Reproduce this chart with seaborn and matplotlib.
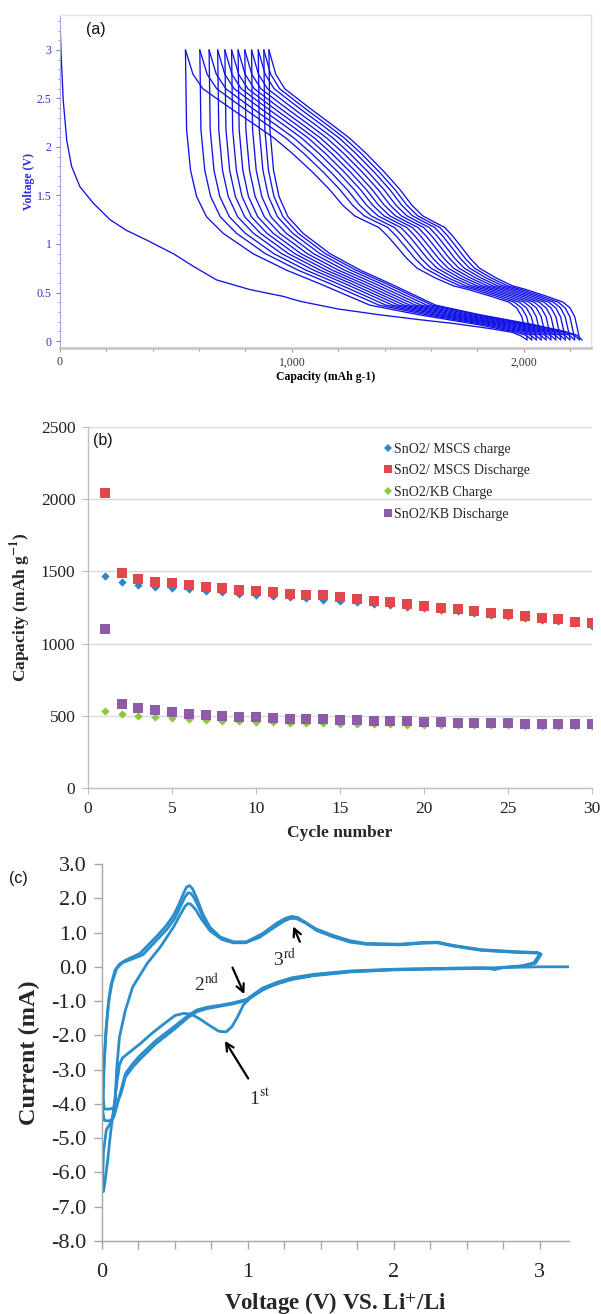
import numpy as np
import pandas as pd
import matplotlib
matplotlib.use("Agg")
import matplotlib.pyplot as plt
from matplotlib.ticker import MultipleLocator, FuncFormatter, FormatStrFormatter
from matplotlib.lines import Line2D
import seaborn as sns

# ---------------- Panel (a): galvanostatic curves ----------------
first_dis_cap = [0, 4, 14, 29, 50, 86, 144, 216, 287, 374, 431, 489, 575, 675, 819, 963,
                 1034, 1200, 1379, 1550, 1700, 1850, 1950, 1990, 2015]
first_dis_v = [3.31, 3.00, 2.48, 2.07, 1.80, 1.59, 1.42, 1.25, 1.14, 1.04, 0.97, 0.90, 0.77,
               0.63, 0.53, 0.46, 0.41, 0.33, 0.27, 0.22, 0.18, 0.13, 0.09, 0.05, 0.01]
top_caps = [541, 603, 643, 680, 711, 740, 768, 797, 826, 855, 879, 901]
bottom_caps = [2015, 2035, 2055, 2076, 2097, 2118, 2139, 2160, 2180, 2200, 2220, 2241]
last_bottom_cap = 2252
charge_frac = [0, 0.0067, 0.0157, 0.0306, 0.053, 0.105, 0.172, 0.217, 0.269, 0.322, 0.352,
               0.381, 0.408, 0.434, 0.470, 0.505, 0.540, 0.578, 0.628, 0.686, 0.740, 0.793,
               0.852, 0.901, 0.949, 0.978, 1.0]
charge_v = [0.02, 0.12, 0.25, 0.34, 0.40, 0.46, 0.53, 0.57, 0.65, 0.75, 0.85, 0.97, 1.08,
            1.17, 1.23, 1.29, 1.40, 1.56, 1.74, 1.93, 2.09, 2.22, 2.36, 2.48, 2.60, 2.75, 3.00]
dis_frac = [0, 0.0033, 0.0147, 0.0321, 0.0609, 0.109, 0.195, 0.292, 0.388, 0.532, 0.675,
            0.843, 0.943, 0.983, 1.0]
dis_v = [3.0, 2.18, 1.76, 1.49, 1.28, 1.11, 0.90, 0.73, 0.59, 0.37, 0.27, 0.17, 0.10, 0.06, 0.01]

# ---------------- Panel (b): cycling ----------------
cycles = list(range(1, 31))
mscs_charge = [1470, 1430, 1405, 1395, 1385, 1375, 1365, 1355, 1345, 1340, 1330, 1320, 1315,
               1305, 1295, 1285, 1275, 1265, 1255, 1245, 1235, 1225, 1215, 1200, 1190, 1175,
               1165, 1155, 1140, 1125]
mscs_discharge = [2040, 1490, 1450, 1430, 1420, 1405, 1395, 1385, 1370, 1365, 1355, 1345, 1340,
                  1335, 1320, 1310, 1297, 1287, 1275, 1262, 1250, 1238, 1227, 1215, 1202, 1190,
                  1177, 1167, 1153, 1143]
kb_charge = [535, 515, 500, 490, 482, 475, 470, 466, 462, 458, 455, 452, 450, 448, 446, 444,
             442, 440, 439, 438, 437, 436, 435, 434, 433, 432, 431, 431, 430, 430]
kb_discharge = [1100, 585, 555, 540, 525, 515, 505, 500, 495, 490, 485, 480, 477, 475, 472,
                470, 466, 464, 462, 458, 455, 452, 450, 448, 447, 446, 445, 445, 443, 442]
series_names = ["SnO2/ MSCS charge", "SnO2/ MSCS Discharge", "SnO2/KB Charge", "SnO2/KB Discharge"]

# ---------------- Panel (c): cyclic voltammetry ----------------
cv1_v = [3.20, 3.00, 2.75, 2.69, 2.62, 2.30, 2.00, 1.70, 1.45, 1.30, 1.20, 1.10, 1.02, 0.97,
         0.93, 0.89, 0.85, 0.80, 0.74, 0.67, 0.61, 0.56, 0.50, 0.42, 0.34, 0.26, 0.18, 0.14,
         0.12, 0.10, 0.08, 0.06, 0.04, 0.02, 0.01,
         0.005, 0.01, 0.03, 0.06, 0.08, 0.09, 0.10, 0.12, 0.16, 0.21, 0.31, 0.40, 0.49, 0.54,
         0.57, 0.59, 0.61, 0.64, 0.68, 0.74, 0.82, 0.90, 0.98, 1.08, 1.18, 1.25, 1.29, 1.33,
         1.38, 1.47, 1.58, 1.70, 1.81, 2.04, 2.20, 2.30, 2.40, 2.60, 2.84, 2.98, 3.00, 2.96,
         2.88]
cv1_i = [0.00, 0.00, -0.02, -0.08, -0.03, -0.05, -0.08, -0.14, -0.24, -0.36, -0.48, -0.68,
         -0.90, -1.10, -1.45, -1.75, -1.90, -1.88, -1.72, -1.52, -1.38, -1.36, -1.42, -1.68,
         -1.95, -2.25, -2.52, -2.66, -2.85, -3.45, -4.15, -4.80, -5.60, -6.30, -6.56,
         -6.20, -5.40, -4.75, -4.55, -4.30, -3.99, -3.00, -2.04, -1.27, -0.59, 0.10, 0.58,
         1.16, 1.55, 1.77, 1.85, 1.82, 1.68, 1.40, 1.05, 0.80, 0.70, 0.70, 0.86, 1.15, 1.34,
         1.41, 1.41, 1.31, 1.10, 0.92, 0.76, 0.68, 0.66, 0.71, 0.72, 0.63, 0.50, 0.44, 0.42,
         0.38, 0.12, 0.03]
cv2_v = [2.88, 2.70, 2.40, 2.00, 1.70, 1.45, 1.30, 1.20, 1.10, 0.99, 0.90, 0.81, 0.72, 0.65,
         0.59, 0.49, 0.37, 0.26, 0.21, 0.16, 0.13, 0.10, 0.08, 0.05, 0.015,
         0.005, 0.01, 0.025, 0.043, 0.06, 0.089, 0.12, 0.16, 0.26, 0.37, 0.44, 0.49, 0.53,
         0.56, 0.58, 0.60, 0.62, 0.65, 0.69, 0.74, 0.81, 0.90, 0.99, 1.10, 1.20, 1.26, 1.30,
         1.34, 1.40, 1.47, 1.58, 1.70, 1.81, 2.04, 2.20, 2.30, 2.40, 2.60, 2.84, 2.98, 3.01,
         2.97, 2.88]
cv2_i = [0.03, -0.03, -0.04, -0.07, -0.12, -0.22, -0.32, -0.45, -0.62, -0.95, -1.05, -1.12,
         -1.18, -1.26, -1.42, -1.76, -2.15, -2.59, -2.83, -3.12, -3.61, -4.09, -4.40, -4.50,
         -4.48,
         -4.20, -3.20, -2.00, -1.07, -0.55, -0.10, 0.08, 0.19, 0.39, 0.87, 1.20, 1.50, 1.85,
         2.16, 2.33, 2.37, 2.28, 2.00, 1.55, 1.15, 0.87, 0.73, 0.73, 0.97, 1.28, 1.42, 1.47,
         1.44, 1.28, 1.08, 0.90, 0.74, 0.67, 0.65, 0.70, 0.71, 0.62, 0.49, 0.43, 0.41, 0.37,
         0.10, 0.02]
cv3_v = [2.88, 2.70, 2.40, 2.00, 1.70, 1.45, 1.30, 1.20, 1.10, 0.99, 0.90, 0.81, 0.72, 0.65,
         0.59, 0.49, 0.37, 0.26, 0.21, 0.16, 0.13, 0.10, 0.08, 0.05, 0.015,
         0.008, 0.015, 0.03, 0.05, 0.07, 0.10, 0.14, 0.19, 0.28, 0.38, 0.45, 0.50, 0.54, 0.57,
         0.59, 0.61, 0.63, 0.66, 0.70, 0.75, 0.81, 0.90, 0.99, 1.10, 1.20, 1.26, 1.30, 1.34,
         1.40, 1.47, 1.58, 1.70, 1.81, 2.04, 2.20, 2.30, 2.40, 2.60, 2.84, 2.99]
cv3_i = [0.02, -0.04, -0.06, -0.09, -0.15, -0.26, -0.37, -0.50, -0.66, -0.98, -1.08, -1.15,
         -1.22, -1.31, -1.48, -1.84, -2.24, -2.70, -2.93, -3.22, -3.70, -4.00, -4.12, -4.15,
         -4.15,
         -3.80, -2.80, -1.70, -0.90, -0.45, -0.05, 0.12, 0.20, 0.35, 0.80, 1.12, 1.42, 1.78,
         2.05, 2.16, 2.14, 2.02, 1.76, 1.38, 1.05, 0.85, 0.71, 0.71, 0.95, 1.26, 1.40, 1.45,
         1.42, 1.27, 1.06, 0.88, 0.72, 0.66, 0.64, 0.69, 0.70, 0.61, 0.48, 0.42, 0.40]

# ---------------- style ----------------
sns.set_theme(style="white")
plt.rcParams['font.family'] = ['Liberation Serif', 'DejaVu Serif']
plt.rcParams['mathtext.fontset'] = 'stix'
plt.rcParams['axes.unicode_minus'] = False

fig = plt.figure(figsize=(6.01, 13.14), dpi=100)
axA = fig.add_axes([0.09983, 0.73516, 0.8835, 0.25342])
axB = fig.add_axes([0.14642, 0.40030, 0.83860, 0.27473])
axC = fig.add_axes([0.16972, 0.05556, 0.77704, 0.28691])

# ---------------- Panel (a) ----------------
rows = []
rows.append(pd.DataFrame({"cap": first_dis_cap, "v": first_dis_v, "seg": "d0"}))
cf = np.array(charge_frac)
df_ = np.array(dis_frac)
for k in range(len(top_caps)):
    b, t = bottom_caps[k], top_caps[k]
    rows.append(pd.DataFrame({"cap": b - cf * (b - t), "v": charge_v, "seg": f"c{k}"}))
    end = bottom_caps[k + 1] if k + 1 < len(bottom_caps) else last_bottom_cap
    rows.append(pd.DataFrame({"cap": t + df_ * (end - t), "v": dis_v, "seg": f"d{k+1}"}))
dfA = pd.concat(rows, ignore_index=True)
sns.lineplot(data=dfA, x="cap", y="v", units="seg", estimator=None, sort=False,
             color="#1212E6", linewidth=0.95, ax=axA)
axA.set_xlim(0, 2290)
axA.set_ylim(-0.072, 3.36)
axA.xaxis.set_major_locator(MultipleLocator(1000))
axA.xaxis.set_minor_locator(MultipleLocator(200))
axA.yaxis.set_major_locator(MultipleLocator(0.5))
axA.yaxis.set_minor_locator(MultipleLocator(0.1))
axA.xaxis.set_major_formatter(FuncFormatter(lambda x, p: f"{int(x):,}"))
axA.yaxis.set_major_formatter(FuncFormatter(lambda y, p: f"{y:g}"))
axA.tick_params(axis='x', which='major', direction='out', length=3, width=0.8,
                color='#999999', labelsize=8.5, labelcolor='#333333', pad=3, bottom=True)
axA.tick_params(axis='x', which='minor', direction='out', length=2.5, width=0.8,
                color='#999999', bottom=True)
axA.tick_params(axis='y', which='major', direction='out', length=3, width=0.8,
                color='#8080d0', labelsize=8.5, labelcolor='#3030e0', pad=3, left=True)
axA.tick_params(axis='y', which='minor', direction='out', length=1.5, width=0.6,
                color='#8080d0', left=True)
for s in ['top', 'right']:
    axA.spines[s].set_color('#e4e4e4')
    axA.spines[s].set_linewidth(1.0)
axA.spines['bottom'].set_color('#c8c8c8')
axA.spines['bottom'].set_linewidth(2.0)
axA.spines['left'].set_color('#a8a8d8')
axA.spines['left'].set_linewidth(0.8)
axA.set_xlabel("Capacity (mAh g-1)", fontsize=8.5, fontweight='bold', color='black', labelpad=2)
axA.set_ylabel("Voltage (V)", fontsize=8.5, fontweight='bold', color='#2a2ae0', labelpad=1)

# ---------------- Panel (b) ----------------
colors_b = ["#2E86C8", "#E2474B", "#8DC63F", "#8E5BA8"]
markers_b = ["D", "s", "D", "s"]
sizes_b = [18, 44, 18, 44]
values_b = [mscs_charge, mscs_discharge, kb_charge, kb_discharge]
for name, vals, c, m, s in zip(series_names, values_b, colors_b, markers_b, sizes_b):
    d = pd.DataFrame({"cycle": cycles, "cap": vals})
    sns.scatterplot(data=d, x="cycle", y="cap", marker=m, s=s, color=c, linewidth=0,
                    ax=axB, legend=False, zorder=3)
axB.set_xlim(0, 30)
axB.set_ylim(0, 2500)
axB.xaxis.set_major_locator(MultipleLocator(5))
axB.yaxis.set_major_locator(MultipleLocator(500))
axB.yaxis.grid(True, color='#d9d9d9', linewidth=1.0)
axB.xaxis.grid(False)
axB.set_axisbelow(True)
for s in ['top', 'right']:
    axB.spines[s].set_visible(False)
for s in ['left', 'bottom']:
    axB.spines[s].set_color('#bfbfbf')
    axB.spines[s].set_linewidth(1.0)
axB.tick_params(axis='both', direction='out', length=4, width=0.8, color='#bfbfbf',
                labelsize=12.5, labelcolor='#222222', pad=5, bottom=True, left=True)
axB.set_xlabel("Cycle number", fontsize=12.5, fontweight='bold', labelpad=6)
axB.set_ylabel(r"Capacity (mAh g$^{\mathbf{-1}}$)", fontsize=12.5, fontweight='bold', labelpad=6)
handles = [Line2D([], [], linestyle='none', marker=m, color=c, markeredgewidth=0,
                  markersize=(4.0 if m == 'D' else 6.0)) for c, m in zip(colors_b, markers_b)]
axB.legend(handles, series_names, loc='upper left', bbox_to_anchor=(0.575, 0.972),
           frameon=False, fontsize=10, handlelength=0.6, handletextpad=0.15,
           labelspacing=0.62, borderaxespad=0)

# ---------------- Panel (c) ----------------
cv_df = pd.concat([
    pd.DataFrame({"V": cv1_v, "I": cv1_i, "cycle": "1"}),
    pd.DataFrame({"V": cv2_v, "I": cv2_i, "cycle": "2"}),
    pd.DataFrame({"V": cv3_v, "I": cv3_i, "cycle": "3"}),
], ignore_index=True)
sns.lineplot(data=cv_df, x="V", y="I", units="cycle", estimator=None, sort=False,
             color="#2C8DCB", linewidth=2.0, ax=axC)
axC.set_xlim(0, 3.2)
axC.set_ylim(-8, 3)
axC.xaxis.set_major_locator(MultipleLocator(1))
axC.xaxis.set_minor_locator(MultipleLocator(0.25))
axC.yaxis.set_major_locator(MultipleLocator(1.0))
axC.yaxis.set_major_formatter(FormatStrFormatter("%.1f"))
axC.xaxis.set_major_formatter(FuncFormatter(lambda x, p: f"{int(round(x))}"))
for s in ['top', 'right']:
    axC.spines[s].set_visible(False)
for s in ['left', 'bottom']:
    axC.spines[s].set_color('#a6a6a6')
    axC.spines[s].set_linewidth(1.0)
axC.tick_params(axis='both', which='major', direction='out', length=6, width=1.0,
                color='#a6a6a6', labelsize=16, labelcolor='#222222', pad=10,
                bottom=True, left=True)
axC.tick_params(axis='y', which='major', pad=5)
axC.tick_params(axis='x', which='minor', direction='out', length=6, width=1.0,
                color='#a6a6a6', bottom=True)
axC.set_xlabel(r"Voltage (V) VS. Li$^{+}$/Li", fontsize=16.5, fontweight='bold', labelpad=6)
axC.set_ylabel("Current (mA)", fontsize=17.5, fontweight='bold', labelpad=8)

arrow_kw = dict(arrowstyle='->', color='black', lw=1.6, mutation_scale=14,
                shrinkA=0, shrinkB=0)
axC.annotate('', xy=(0.842, -2.16), xytext=(1.002, -3.26), arrowprops=arrow_kw)
axC.text(1.08, -3.82, r"1$^{\mathrm{st}}$", ha='center', va='center', fontsize=14)
axC.annotate('', xy=(0.975, -0.80), xytext=(0.894, -0.02), arrowprops=arrow_kw)
axC.text(0.716, -0.52, r"2$^{\mathrm{nd}}$", ha='center', va='center', fontsize=14)
axC.annotate('', xy=(1.31, 1.18), xytext=(1.356, 0.73), arrowprops=arrow_kw)
axC.text(1.253, 0.22, r"3$^{\mathrm{rd}}$", ha='center', va='center', fontsize=14)

# ---------------- panel letters ----------------
for lbl, x, y in [("(a)", 0.1597, 0.9772), ("(b)", 0.1714, 0.6651), ("(c)", 0.030, 0.3318)]:
    fig.text(x, y, lbl, ha='center', va='center', fontsize=11.5,
             family=['Liberation Sans', 'DejaVu Sans'], color='#111111')

fig.savefig("out.png", dpi=100)
